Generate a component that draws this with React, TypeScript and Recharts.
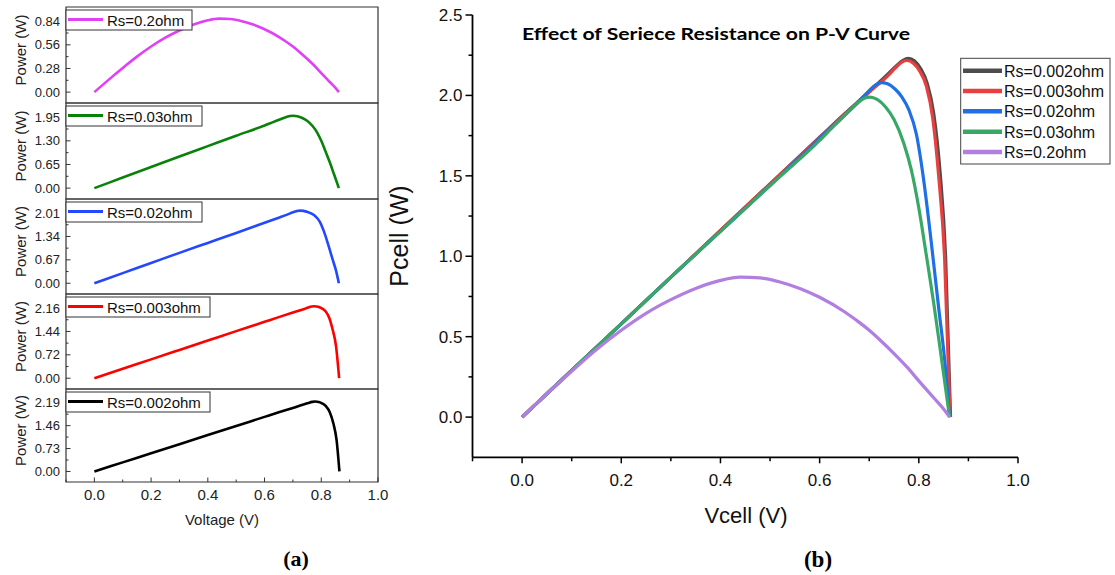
import React from 'react';
import { LineChart, Line, XAxis, YAxis, ReferenceArea } from 'recharts';

// ---------- data ----------
const seriesNames = ['Rs=0.002ohm', 'Rs=0.003ohm', 'Rs=0.02ohm', 'Rs=0.03ohm', 'Rs=0.2ohm'];

const vRs002 = [0, 0.1, 0.2, 0.3, 0.4, 0.5, 0.6, 0.65, 0.7, 0.74, 0.755, 0.768, 0.779, 0.791, 0.804, 0.817, 0.83, 0.843, 0.854, 0.864];
const pRs002 = [0, 0.29, 0.58, 0.87, 1.16, 1.45, 1.74, 1.885, 2.025, 2.14, 2.185, 2.218, 2.23, 2.215, 2.165, 2.075, 1.89, 1.52, 1.0, 0];

const vRs003 = [0, 0.1, 0.2, 0.3, 0.4, 0.5, 0.6, 0.65, 0.7, 0.74, 0.754, 0.766, 0.776, 0.789, 0.802, 0.815, 0.828, 0.84, 0.852, 0.863];
const pRs003 = [0, 0.29, 0.58, 0.87, 1.16, 1.45, 1.735, 1.88, 2.02, 2.13, 2.175, 2.207, 2.217, 2.2, 2.15, 2.06, 1.86, 1.5, 0.99, 0];

const vRs02 = [0, 0.1, 0.2, 0.3, 0.4, 0.5, 0.6, 0.65, 0.68, 0.7, 0.713, 0.724, 0.737, 0.752, 0.766, 0.78, 0.795, 0.81, 0.825, 0.84, 0.852, 0.862];
const pRs02 = [0, 0.29, 0.58, 0.87, 1.155, 1.44, 1.73, 1.875, 1.965, 2.03, 2.065, 2.08, 2.072, 2.04, 1.99, 1.91, 1.76, 1.47, 1.09, 0.68, 0.36, 0];

const vRs03 = [0, 0.1, 0.2, 0.3, 0.4, 0.5, 0.6, 0.63, 0.66, 0.677, 0.69, 0.702, 0.716, 0.733, 0.75, 0.77, 0.785, 0.8, 0.815, 0.83, 0.845, 0.862];
const pRs03 = [0, 0.29, 0.58, 0.87, 1.155, 1.44, 1.72, 1.815, 1.905, 1.955, 1.983, 1.99, 1.975, 1.928, 1.85, 1.7, 1.535, 1.3, 1.01, 0.71, 0.38, 0];

const vRs2 = [0, 0.05, 0.1, 0.15, 0.2, 0.25, 0.3, 0.35, 0.4, 0.44, 0.48, 0.52, 0.56, 0.6, 0.65, 0.675, 0.7, 0.725, 0.75, 0.775, 0.8, 0.83, 0.85, 0.862];
const pRs2 = [0, 0.145, 0.285, 0.42, 0.54, 0.645, 0.73, 0.8, 0.85, 0.87, 0.865, 0.84, 0.8, 0.745, 0.655, 0.6, 0.54, 0.47, 0.395, 0.315, 0.225, 0.12, 0.05, 0];

// tick labels
const xMajorTicks = [0, 0.2, 0.4, 0.6, 0.8, 1.0];
const xMinorTicks = [-0.1, 0.1, 0.3, 0.5, 0.7, 0.9];
const rightYMajor = [0, 0.5, 1.0, 1.5, 2.0, 2.5];
const rightYMinor = [0.25, 0.75, 1.25, 1.75, 2.25];
const ticksRs2 = [0, 0.28, 0.56, 0.84];
const ticksRs03 = [0, 0.65, 1.3, 1.95];
const ticksRs02 = [0, 0.67, 1.34, 2.01];
const ticksRs003 = [0, 0.72, 1.44, 2.16];
const ticksRs002 = [0, 0.73, 1.46, 2.19];

const chartTitle = 'Effect of Seriece Resistance on P-V Curve';

// ---------- build ----------
const zip = (v: number[], p: number[]) => v.map((x, i) => ({ v: x, p: p[i] }));
const seriesData = [zip(vRs002, pRs002), zip(vRs003, pRs003), zip(vRs02, pRs02), zip(vRs03, pRs03), zip(vRs2, pRs2)];
const rightColors = ['#4d4d4d', '#e8403f', '#1f6fe6', '#38a867', '#b07fe0'];

const leftPanels = [
  { s: 4, ticks: ticksRs2, color: '#e040f6', boxW: 126 },
  { s: 3, ticks: ticksRs03, color: '#0a820a', boxW: 136 },
  { s: 2, ticks: ticksRs02, color: '#2448ff', boxW: 136 },
  { s: 1, ticks: ticksRs003, color: '#ff0000', boxW: 144 },
  { s: 0, ticks: ticksRs002, color: '#000000', boxW: 144 },
];

const PANEL_TOPS = [7, 103, 199, 294, 389, 482];
const LW = 394;
const SANS = '"Liberation Sans", Arial, sans-serif';
const near = (a: number, arr: number[]) => arr.some((b) => Math.abs(a - b) < 1e-6);

function leftXTick(props: any, showLabel: boolean) {
  const { x, y, payload } = props;
  const major = near(payload.value, xMajorTicks);
  return (
    <g>
      <line x1={x} x2={x} y1={y} y2={y - (major ? 4.5 : 2.5)} stroke="#333" strokeWidth={1} />
      {showLabel && major ? (
        <text x={x} y={y + 18} textAnchor="middle" fontSize={15} fontFamily={SANS} fill="#222">
          {payload.value.toFixed(1)}
        </text>
      ) : null}
    </g>
  );
}

function leftYTick(props: any, majors: number[]) {
  const { x, y, payload } = props;
  const major = near(payload.value, majors);
  return (
    <g>
      <line x1={x} x2={x + (major ? 4.5 : 2.5)} y1={y} y2={y} stroke="#333" strokeWidth={1} />
      {major ? (
        <text x={x - 6} y={y + 4.5} textAnchor="end" fontSize={13} fontFamily={SANS} fill="#222">
          {payload.value.toFixed(2)}
        </text>
      ) : null}
    </g>
  );
}

function rightXTick(props: any) {
  const { x, y, payload } = props;
  const major = near(payload.value, xMajorTicks);
  return (
    <g>
      <line x1={x} x2={x} y1={y} y2={y + (major ? 6 : 4)} stroke="#000" strokeWidth={1.5} />
      {major ? (
        <text x={x} y={y + 29} textAnchor="middle" fontSize={17} fontFamily={SANS} fill="#111">
          {payload.value.toFixed(1)}
        </text>
      ) : null}
    </g>
  );
}

function rightYTick(props: any) {
  const { x, y, payload } = props;
  const major = near(payload.value, rightYMajor);
  return (
    <g>
      <line x1={x} x2={x - (major ? 7 : 4)} y1={y} y2={y} stroke="#000" strokeWidth={1.5} />
      {major ? (
        <text x={x - 10} y={y + 6} textAnchor="end" fontSize={17} fontFamily={SANS} fill="#111">
          {payload.value.toFixed(1)}
        </text>
      ) : null}
    </g>
  );
}

function LeftPanel({ idx }: { idx: number }) {
  const cfg = leftPanels[idx];
  const top = PANEL_TOPS[idx];
  const bottom = PANEL_TOPS[idx + 1];
  const isLast = idx === 4;
  const pad = 2;
  const xh = isLast ? 28 : 0;
  const h = bottom - top + pad * 2 + xh;
  const t = cfg.ticks[1];
  const domain: [number, number] = [-0.46 * t, 3.6 * t];
  const yMinor = [0.5 * t, 1.5 * t, 2.5 * t];
  const yAll = [...cfg.ticks, ...yMinor];
  return (
    <div style={{ position: 'absolute', left: 0, top: top - pad, width: LW, height: h }}>
      <LineChart width={LW} height={h} margin={{ top: pad, right: LW - 378, bottom: pad, left: 0 }}>
        <XAxis
          type="number"
          dataKey="v"
          domain={[-0.1, 1]}
          ticks={[...xMajorTicks, ...xMinorTicks]}
          interval={0}
          tickSize={0}
          tickMargin={0}
          tickLine={false}
          axisLine={false}
          height={xh}
          allowDataOverflow
          tick={(p: any) => leftXTick(p, isLast)}
        />
        <YAxis
          type="number"
          domain={domain}
          ticks={yAll}
          interval={0}
          tickSize={0}
          tickMargin={0}
          tickLine={false}
          axisLine={false}
          width={66}
          allowDataOverflow
          tick={(p: any) => leftYTick(p, cfg.ticks)}
        />
        <ReferenceArea
          x1={-0.1}
          x2={1}
          y1={domain[0]}
          y2={domain[1]}
          fill="none"
          fillOpacity={0}
          stroke="#333"
          strokeWidth={1.2}
          ifOverflow="visible"
        />
        <Line
          data={seriesData[cfg.s]}
          dataKey="p"
          type="monotone"
          stroke={cfg.color}
          strokeWidth={2.6}
          dot={false}
          isAnimationActive={false}
        />
      </LineChart>
    </div>
  );
}

export default function App() {
  const legendRows = [70.7, 91, 111.3, 131.7, 152];
  return (
    <div style={{ position: 'absolute', left: 0, top: 0, width: 1115, height: 575, background: '#fff', overflow: 'hidden' }}>
      {leftPanels.map((_, i) => (
        <LeftPanel key={i} idx={i} />
      ))}

      <div style={{ position: 'absolute', left: 380, top: 0, width: 735, height: 500 }}>
        <LineChart width={735} height={500} margin={{ top: 15, right: 97, bottom: 0, left: 0 }}>
          <XAxis
            type="number"
            dataKey="v"
            domain={[-0.1, 1]}
            ticks={[...xMajorTicks, ...xMinorTicks]}
            interval={0}
            tickSize={0}
            tickMargin={0}
            tickLine={false}
            axisLine={{ stroke: '#000', strokeWidth: 1.8 }}
            height={42.7}
            allowDataOverflow
            tick={rightXTick}
          />
          <YAxis
            type="number"
            domain={[-0.25, 2.5]}
            ticks={[...rightYMajor, ...rightYMinor]}
            interval={0}
            tickSize={0}
            tickMargin={0}
            tickLine={false}
            axisLine={{ stroke: '#000', strokeWidth: 1.8 }}
            width={92.5}
            allowDataOverflow
            tick={rightYTick}
          />
          {seriesData.map((d, i) => (
            <Line
              key={seriesNames[i]}
              name={seriesNames[i]}
              data={d}
              dataKey="p"
              type="monotone"
              stroke={rightColors[i]}
              strokeWidth={3.2}
              dot={false}
              isAnimationActive={false}
            />
          ))}
        </LineChart>
      </div>

      <svg width={1115} height={575} style={{ position: 'absolute', left: 0, top: 0, pointerEvents: 'none' }}>
        {/* left legends */}
        {leftPanels.map((cfg, i) => {
          const top = PANEL_TOPS[i];
          return (
            <g key={i}>
              <rect x={66} y={top + 3} width={cfg.boxW} height={20} fill="#fff" stroke="#333" strokeWidth={1} />
              <line x1={68} x2={103} y1={top + 12.5} y2={top + 12.5} stroke={cfg.color} strokeWidth={3} />
              <text x={107} y={top + 18.5} fontSize={15} fontFamily={SANS} fill="#111">
                {seriesNames[cfg.s]}
              </text>
            </g>
          );
        })}
        {/* left axis labels */}
        {leftPanels.map((_, i) => {
          const cy = (PANEL_TOPS[i] + PANEL_TOPS[i + 1]) / 2 - 5;
          return (
            <text
              key={'pl' + i}
              transform={`translate(26, ${cy}) rotate(-90)`}
              textAnchor="middle"
              fontSize={15}
              fontFamily={SANS}
              fill="#222"
            >
              Power (W)
            </text>
          );
        })}
        <text x={222} y={525} textAnchor="middle" fontSize={15} fontFamily={SANS} fill="#222">
          Voltage (V)
        </text>
        <text x={296} y={566} textAnchor="middle" fontSize={22} fontWeight={700} fontFamily='"Liberation Serif", "Times New Roman", serif'>
          (a)
        </text>

        {/* right panel texts */}
        <text x={522} y={40} fontSize={17} fontWeight={700} fontFamily="Lato, sans-serif" textLength={388} lengthAdjust="spacingAndGlyphs" fill="#000">
          {chartTitle}
        </text>
        <text transform="translate(408, 236) rotate(-90)" textAnchor="middle" fontSize={25} fontFamily={SANS} fill="#111">
          Pcell (W)
        </text>
        <text x={746} y={523} textAnchor="middle" fontSize={22} fontFamily={SANS} fill="#111">
          Vcell (V)
        </text>
        <text x={818} y={567} textAnchor="middle" fontSize={23} fontWeight={700} fontFamily='"Liberation Serif", "Times New Roman", serif'>
          (b)
        </text>

        {/* right legend */}
        <rect x={960.7} y={58.3} width={149.3} height={105.7} fill="#fff" stroke="#444" strokeWidth={1} />
        {seriesNames.map((n, i) => (
          <g key={n}>
            <line x1={963} x2={1002} y1={legendRows[i]} y2={legendRows[i]} stroke={rightColors[i]} strokeWidth={4.5} />
            <text x={1004} y={legendRows[i] + 6} fontSize={16} fontFamily={SANS} fill="#111">
              {n}
            </text>
          </g>
        ))}
      </svg>
    </div>
  );
}
